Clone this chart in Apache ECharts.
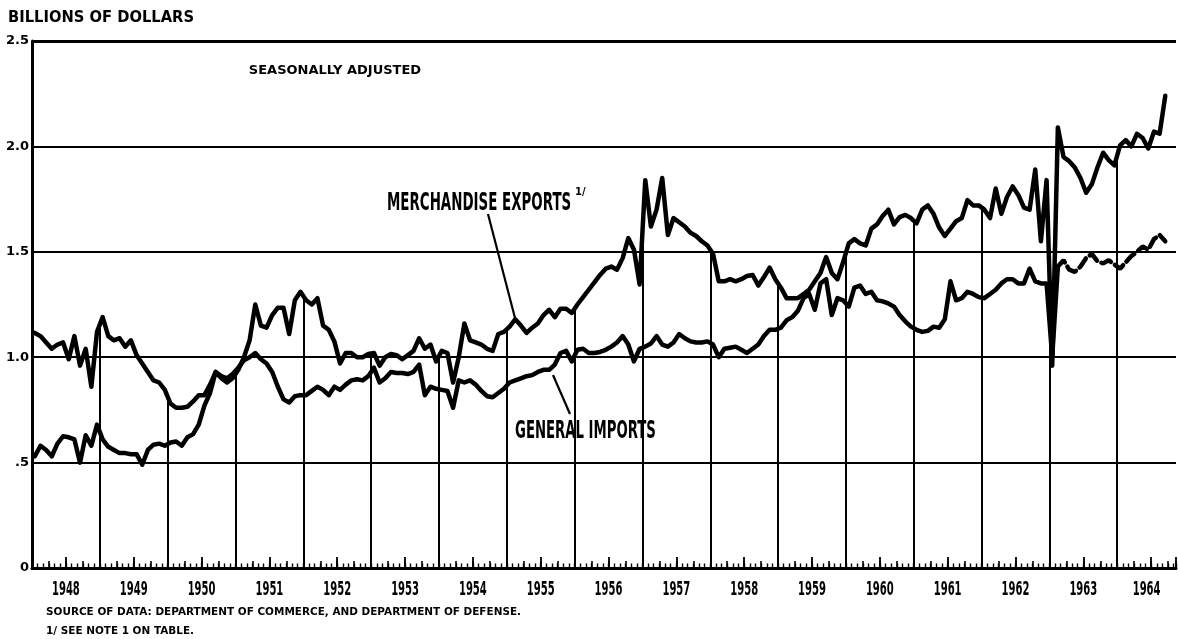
<!DOCTYPE html>
<html><head><meta charset="utf-8">
<script src="https://cdn.jsdelivr.net/npm/echarts/dist/echarts.min.js"></script>
<style>html,body{margin:0;padding:0;background:#fff}#c{width:1178px;height:639px}</style>
</head><body><div id="c"></div>
<script>
// Year labels (x axis), Jan 1948 .. Sep 1964 monthly data
const years = ['1948','1949','1950','1951','1952','1953','1954','1955','1956','1957','1958','1959','1960','1961','1962','1963','1964'];
const yTickLabels = ['0', '.5', '1.0', '1.5', '2.0', '2.5'];

// Merchandise exports, billions of dollars, seasonally adjusted (monthly)
const exportsData = [
  1.115,1.10,1.07,1.04,1.06,1.07,0.99,1.10,0.96,1.04,0.86,1.12,
  1.19,1.10,1.08,1.09,1.05,1.08,1.01,0.97,0.93,0.89,0.88,0.845,
  0.78,0.76,0.76,0.765,0.79,0.82,0.82,0.87,0.93,0.90,0.88,0.90,
  0.94,1.00,1.08,1.25,1.15,1.14,1.20,1.235,1.235,1.11,1.27,1.31,
  1.27,1.25,1.28,1.15,1.13,1.075,0.97,1.02,1.02,1.00,1.00,1.015,
  1.02,0.96,1.00,1.015,1.01,0.99,1.01,1.03,1.09,1.04,1.06,0.98,
  1.03,1.02,0.88,1.00,1.16,1.08,1.07,1.06,1.04,1.03,1.11,1.12,
  1.145,1.18,1.15,1.115,1.14,1.16,1.20,1.225,1.19,1.23,1.23,1.21,
  1.25,1.285,1.32,1.355,1.39,1.42,1.43,1.415,1.47,1.565,1.51,1.345,
  1.84,1.62,1.70,1.85,1.58,1.66,1.64,1.62,1.59,1.575,1.55,1.53,
  1.49,1.36,1.36,1.37,1.36,1.37,1.385,1.39,1.34,1.38,1.425,1.37,
  1.33,1.28,1.28,1.28,1.30,1.32,1.36,1.40,1.475,1.40,1.37,1.45,
  1.54,1.56,1.54,1.53,1.61,1.63,1.67,1.70,1.63,1.665,1.675,1.66,
  1.635,1.70,1.72,1.68,1.615,1.575,1.61,1.645,1.66,1.745,1.72,1.72,
  1.70,1.66,1.80,1.68,1.76,1.81,1.77,1.71,1.70,1.89,1.55,1.84,
  0.96,2.09,1.95,1.93,1.90,1.85,1.78,1.82,1.90,1.97,1.935,1.91,
  2.005,2.03,2.00,2.06,2.04,1.99,2.07,2.06,2.24
];

// General imports, billions of dollars, seasonally adjusted (monthly)
const importsData = [
  0.53,0.58,0.56,0.53,0.59,0.625,0.62,0.61,0.50,0.63,0.58,0.68,
  0.61,0.575,0.56,0.545,0.545,0.54,0.54,0.49,0.56,0.585,0.59,0.58,
  0.595,0.60,0.58,0.62,0.635,0.68,0.77,0.83,0.93,0.91,0.90,0.92,
  0.95,0.985,1.00,1.02,0.99,0.97,0.93,0.86,0.80,0.785,0.815,0.82,
  0.82,0.84,0.86,0.845,0.82,0.86,0.845,0.87,0.89,0.895,0.89,0.91,
  0.95,0.88,0.90,0.93,0.925,0.925,0.92,0.93,0.965,0.82,0.86,0.85,
  0.845,0.84,0.76,0.89,0.88,0.89,0.87,0.84,0.815,0.81,0.83,0.85,
  0.88,0.89,0.90,0.91,0.915,0.93,0.94,0.94,0.965,1.02,1.03,0.98,
  1.035,1.04,1.02,1.02,1.025,1.035,1.05,1.07,1.10,1.06,0.98,1.04,
  1.05,1.065,1.10,1.06,1.05,1.07,1.11,1.09,1.075,1.07,1.07,1.075,
  1.06,1.00,1.04,1.045,1.05,1.035,1.02,1.04,1.06,1.10,1.13,1.13,
  1.14,1.175,1.19,1.22,1.28,1.30,1.225,1.35,1.37,1.20,1.28,1.27,
  1.24,1.33,1.34,1.30,1.31,1.27,1.265,1.255,1.24,1.20,1.17,1.145,
  1.13,1.12,1.125,1.145,1.14,1.18,1.36,1.27,1.28,1.31,1.30,1.285,
  1.28,1.30,1.32,1.35,1.37,1.37,1.35,1.35,1.42,1.36,1.35,1.35,
  1.00,1.43,1.46,1.415,1.405,1.43,1.47,1.49,1.455,1.445,1.46,1.44,
  1.42,1.45,1.48,1.50,1.525,1.51,1.56,1.58,1.55
];

const AXIS_MAX = 202.4;        // months shown from Jan 1948
const DASH_FROM = 181;         // imports drawn broken from Feb 1963

const chart = echarts.init(document.getElementById('c'), null, {renderer: 'canvas'});
const FONT = '"DejaVu Sans", Verdana, sans-serif';
const black = '#000';

const xBase = {
  type: 'value', min: 0, max: AXIS_MAX, position: 'bottom', gridIndex: 0,
  splitLine: {show: false}, axisLabel: {show: false}
};

const yearLines = [];
for (let k = 1; k < years.length; k++) {
  const m = 12 * k;
  if (m >= exportsData.length) break;
  const top = (exportsData[m - 1] + exportsData[m]) / 2;
  yearLines.push([{coord: [m, 0]}, {coord: [m, top]}]);
}
const topBorder = [{coord: [0, 2.5], lineStyle: {width: 3, color: black, type: 'solid'}}, {coord: [AXIS_MAX, 2.5]}];

const option = {
  animation: false,
  backgroundColor: '#fff',
  grid: {left: 32, right: 2, top: 41, bottom: 71, containLabel: false},
  xAxis: [
    Object.assign({}, xBase, {
      interval: 6,
      axisLine: {show: true, lineStyle: {color: black, width: 3}},
      axisTick: {show: true, inside: true, length: 11, lineStyle: {color: black, width: 1.8}}
    }),
    Object.assign({}, xBase, {
      interval: 3,
      axisLine: {show: false},
      axisTick: {show: true, inside: true, length: 7, lineStyle: {color: black, width: 1.6}}
    }),
    Object.assign({}, xBase, {
      interval: 1,
      axisLine: {show: false},
      axisTick: {show: true, inside: true, length: 4.5, lineStyle: {color: black, width: 1.4}}
    })
  ],
  yAxis: {
    type: 'value', min: 0, max: 2.5, interval: 0.5,
    axisLine: {show: true, lineStyle: {color: black, width: 3}},
    axisTick: {show: false},
    splitLine: {show: true, lineStyle: {color: black, width: 2}},
    axisLabel: {
      color: black, fontFamily: FONT, fontWeight: 'bold', fontSize: 13, margin: 3,
      formatter: v => yTickLabels[Math.round(v / 0.5)]
    }
  },
  series: [
    {
      name: 'Merchandise exports', type: 'line', xAxisIndex: 0, yAxisIndex: 0,
      data: exportsData.map((v, i) => [i + 0.5, v]),
      symbol: 'none', z: 4,
      lineStyle: {color: black, width: 4.5, join: 'round', cap: 'round'},
      markLine: {
        silent: true, symbol: ['none', 'none'], label: {show: false},
        lineStyle: {color: black, width: 2, type: 'solid'},
        data: yearLines.concat([topBorder])
      }
    },
    {
      name: 'General imports', type: 'line', xAxisIndex: 0, yAxisIndex: 0,
      data: importsData.slice(0, DASH_FROM + 1).map((v, i) => [i + 0.5, v]),
      symbol: 'none', z: 4,
      lineStyle: {color: black, width: 4.5, join: 'round', cap: 'round'}
    },
    {
      name: 'General imports (cont.)', type: 'line', xAxisIndex: 0, yAxisIndex: 0,
      data: importsData.slice(DASH_FROM).map((v, i) => [i + DASH_FROM + 0.5, v]),
      symbol: 'none', z: 4,
      lineStyle: {color: black, width: 4.5, type: [11, 5], cap: 'round'}
    }
  ]
};
chart.setOption(option);

// Annotations and year labels (positioned through the axis scale)
const g = [];
function txt(x, y, text, size, opts) {
  opts = opts || {};
  g.push({
    type: 'text', x: x, y: y, scaleX: opts.sx || 1, z: 10,
    style: {text: text, font: 'bold ' + size + 'px ' + FONT, fill: black,
            align: opts.align || 'left', verticalAlign: 'middle'}
  });
}
txt(8, 18, 'BILLIONS OF DOLLARS', 16, {sx: 0.92});
txt(335, 71, 'SEASONALLY ADJUSTED', 13, {align: 'center'});
txt(387, 203, 'MERCHANDISE EXPORTS', 25, {sx: 0.536});
txt(575, 192, '1/', 10);
txt(515, 431, 'GENERAL IMPORTS', 25, {sx: 0.53});
g.push({type: 'line', z: 10, shape: {x1: 488, y1: 214, x2: 515, y2: 318}, style: {stroke: black, lineWidth: 2.2}});
g.push({type: 'line', z: 10, shape: {x1: 570, y1: 414, x2: 553, y2: 375}, style: {stroke: black, lineWidth: 2.2}});

years.forEach((yr, i) => {
  const a = chart.convertToPixel({xAxisIndex: 0}, i * 12);
  const b = chart.convertToPixel({xAxisIndex: 0}, Math.min((i + 1) * 12, AXIS_MAX));
  txt((a + b) / 2, 590, yr, 20, {align: 'center', sx: 0.5});
});
txt(46, 612, 'SOURCE OF DATA: DEPARTMENT OF COMMERCE, AND DEPARTMENT OF DEFENSE.', 11, {sx: 0.95});
txt(46, 631, '1/ SEE NOTE 1 ON TABLE.', 11, {sx: 0.95});

chart.setOption({graphic: {elements: g}});
</script>
</body></html>
